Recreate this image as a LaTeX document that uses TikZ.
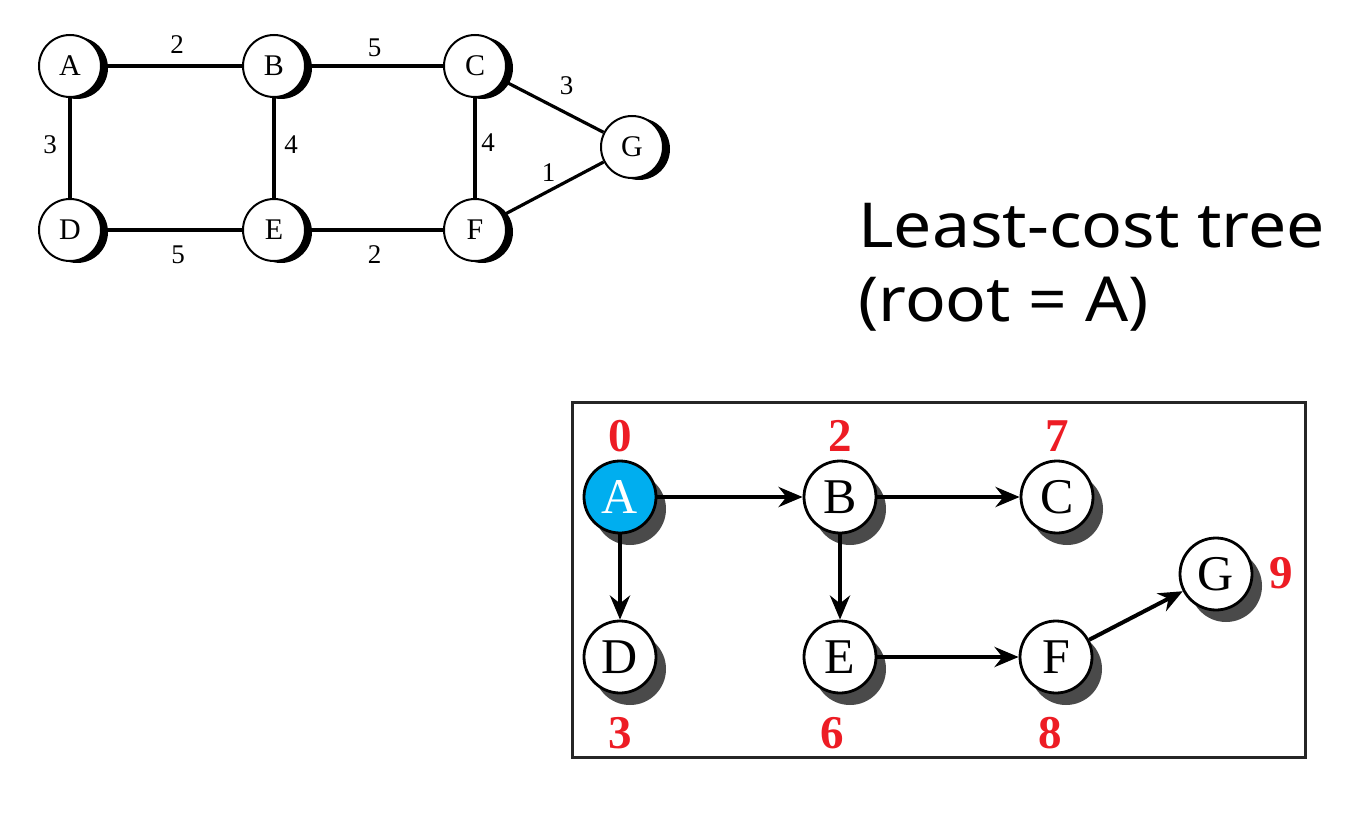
\documentclass[tikz,border=0pt]{standalone}
\usepackage{fontspec}
\setmainfont{Liberation Serif}
\newfontfamily\titlefont{Noto Sans}
\usetikzlibrary{arrows.meta,shadows}
\definecolor{costred}{HTML}{ED1C24}
\definecolor{acyan}{HTML}{00AEEF}
\definecolor{shadowgray}{HTML}{4A4A4A}
\begin{document}
\begin{tikzpicture}[x=1pt,y=-1pt,
  gnode/.style={circle, draw, line width=2pt, fill=white, minimum size=62pt, inner sep=0pt,
    font=\fontsize{30}{30}\selectfont,
    drop shadow={shadow xshift=7pt, shadow yshift=-2pt, opacity=1, fill=black}},
  tnode/.style={circle, draw, line width=2.8pt, fill=white, minimum size=72pt, inner sep=0pt,
    font=\fontsize{50}{50}\selectfont,
    drop shadow={shadow xshift=10pt, shadow yshift=-12pt, opacity=1, fill=shadowgray}},
  gedge/.style={line width=3.2pt},
  elabel/.style={font=\fontsize{27}{27}\selectfont, inner sep=0pt},
  tarrow/.style={line width=4pt, -{Stealth[length=24pt,width=20pt]}},
  cost/.style={text=costred, font=\fontsize{47}{47}\selectfont\bfseries, inner sep=0pt},
  titletext/.style={anchor=base west, inner sep=0pt, font=\titlefont\fontsize{62}{62}\selectfont}]
\fill[white] (0,0) rectangle (1368,826);
% ---- top graph ----
\node[gnode] (A) at (70,66) {A};
\node[gnode] (B) at (274,66) {B};
\node[gnode] (C) at (475,66) {C};
\node[gnode] (D) at (70,230) {D};
\node[gnode] (E) at (274,230) {E};
\node[gnode] (F) at (475,230) {F};
\node[gnode] (G) at (632,147) {G};
\draw[gedge] (A) -- node[elabel, xshift=5pt, yshift=21pt] {2} (B);
\draw[gedge] (B) -- node[elabel, yshift=18pt] {5} (C);
\draw[gedge] (A) -- node[elabel, xshift=-20pt, yshift=3pt] {3} (D);
\draw[gedge] (B) -- node[elabel, xshift=17pt, yshift=3pt] {4} (E);
\draw[gedge] (C) -- node[elabel, xshift=13pt, yshift=5pt] {4} (F);
\draw[gedge] (C) -- node[elabel, xshift=13pt, yshift=21pt] {3} (G);
\draw[gedge] (F) -- node[elabel, xshift=-5pt, yshift=16pt] {1} (G);
\draw[gedge] (D) -- node[elabel, xshift=6pt, yshift=-25pt] {5} (E);
\draw[gedge] (E) -- node[elabel, yshift=-25pt] {2} (F);
% ---- title ----
\node[titletext] (t1) at (858,248) {\scalebox{1.095}[1]{Least-cost tree}};
\node[titletext] (t2) at (858,322) {\scalebox{1.09}[1]{(root = A)}};
% ---- tree ----
\draw[line width=3pt, draw=black!85] (572,402) rectangle (1305,757);
\node[tnode, fill=acyan, text=white] (tA) at (620,497) {A};
\node[tnode] (tB) at (840,497) {B};
\node[tnode] (tC) at (1057,497) {C};
\node[tnode] (tD) at (620,657) {D};
\node[tnode] (tE) at (840,657) {E};
\node[tnode] (tF) at (1056,657) {F};
\node[tnode] (tG) at (1216,574) {G};
\draw[tarrow] (tA) -- (tB);
\draw[tarrow] (tB) -- (tC);
\draw[tarrow] (tA) -- (tD);
\draw[tarrow] (tB) -- (tE);
\draw[tarrow] (tE) -- (tF);
\draw[tarrow] (tF) -- (tG);
\node[cost] (cA) at (620,436) {0};
\node[cost] (cB) at (840,436) {2};
\node[cost] (cC) at (1057,436) {7};
\node[cost] (cD) at (620,733) {3};
\node[cost] (cE) at (832,733) {6};
\node[cost] (cF) at (1050,733) {8};
\node[cost] (cG) at (1281,573) {9};
\end{tikzpicture}
\end{document}
